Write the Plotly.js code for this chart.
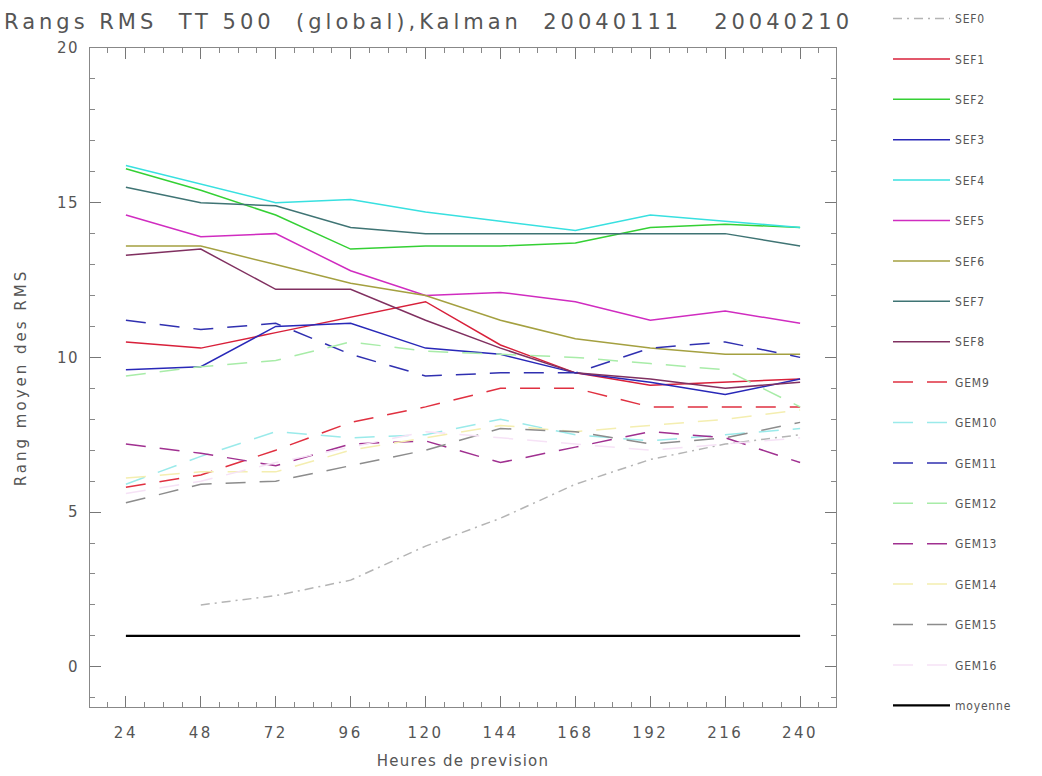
<!DOCTYPE html>
<html>
<head>
<meta charset="utf-8">
<script src="https://cdn.plot.ly/plotly-3.0.1.min.js"></script>
<style>
  html, body { margin: 0; padding: 0; background: #fff; }
  #chart { width: 1042px; height: 776px; }
  .gtitle { letter-spacing: 4px; }
  .ytitle { letter-spacing: 3px; }
  .xtitle { letter-spacing: 1.2px; }
  .xtick text { letter-spacing: 2.5px; }
  .ytick text { letter-spacing: 1.5px; }
  .legendtext { letter-spacing: 0.8px; }
</style>
</head>
<body>
<div id="chart"></div>
<script>
// Forecast hours
const hours = [24, 48, 72, 96, 120, 144, 168, 192, 216, 240];
const hourLabels = ['24', '48', '72', '96', '120', '144', '168', '192', '216', '240'];

// Mean rank of RMS error per ensemble member
const sef0 = [null, 2.0, 2.3, 2.8, 3.9, 4.8, 5.9, 6.7, 7.2, 7.5];
const sef1 = [10.5, 10.3, 10.8, 11.3, 11.8, 10.4, 9.5, 9.1, 9.2, 9.3];
const sef2 = [16.1, 15.4, 14.6, 13.5, 13.6, 13.6, 13.7, 14.2, 14.3, 14.2];
const sef3 = [9.6, 9.7, 11.0, 11.1, 10.3, 10.1, 9.5, 9.2, 8.8, 9.3];
const sef4 = [16.2, 15.6, 15.0, 15.1, 14.7, 14.4, 14.1, 14.6, 14.4, 14.2];
const sef5 = [14.6, 13.9, 14.0, 12.8, 12.0, 12.1, 11.8, 11.2, 11.5, 11.1];
const sef6 = [13.6, 13.6, 13.0, 12.4, 12.0, 11.2, 10.6, 10.3, 10.1, 10.1];
const sef7 = [15.5, 15.0, 14.9, 14.2, 14.0, 14.0, 14.0, 14.0, 14.0, 13.6];
const sef8 = [13.3, 13.5, 12.2, 12.2, 11.2, 10.3, 9.5, 9.3, 9.0, 9.2];
const gem9 = [5.8, 6.2, 7.0, 7.9, 8.4, 9.0, 9.0, 8.4, 8.4, 8.4];
const gem10 = [5.9, 6.8, 7.6, 7.4, 7.5, 8.0, 7.5, 7.3, 7.5, 7.7];
const gem11 = [11.2, 10.9, 11.1, 10.1, 9.4, 9.5, 9.5, 10.3, 10.5, 10.0];
const gem12 = [9.4, 9.7, 9.9, 10.5, 10.2, 10.1, 10.0, 9.8, 9.6, 8.4];
const gem13 = [7.2, 6.9, 6.5, 7.2, 7.3, 6.6, 7.1, 7.6, 7.4, 6.6];
const gem14 = [6.1, 6.3, 6.3, 7.0, 7.4, 7.8, 7.6, 7.8, 8.0, 8.3];
const gem15 = [5.3, 5.9, 6.0, 6.5, 7.0, 7.7, 7.6, 7.2, 7.4, 7.9];
const gem16 = [5.6, 6.0, 6.6, 7.1, 7.6, 7.4, 7.2, 7.0, 7.2, 7.4];
const moyenne = [1, 1, 1, 1, 1, 1, 1, 1, 1, 1];

const memberNames = ['SEF0', 'SEF1', 'SEF2', 'SEF3', 'SEF4', 'SEF5', 'SEF6', 'SEF7', 'SEF8',
  'GEM9', 'GEM10', 'GEM11', 'GEM12', 'GEM13', 'GEM14', 'GEM15', 'GEM16', 'moyenne'];
const memberValues = [sef0, sef1, sef2, sef3, sef4, sef5, sef6, sef7, sef8,
  gem9, gem10, gem11, gem12, gem13, gem14, gem15, gem16, moyenne];

// Line styles: SEF members solid, GEM members long dashes
const lineColors = ['#b4b4b4', '#d8203a', '#34d034', '#2828b8', '#38e0e0', '#d02cc0', '#a4a040',
  '#3f7474', '#803060', '#e03040', '#9aeaea', '#3030b0', '#a8eca8', '#a03090', '#f4eeb0',
  '#8c8c8c', '#f6e2f6', '#000000'];
const lineDash = ['9px,5px,2px,5px', 'solid', 'solid', 'solid', 'solid', 'solid', 'solid', 'solid', 'solid',
  '20px,14px', '20px,14px', '20px,14px', '20px,14px', '20px,14px', '20px,14px', '20px,14px', '20px,14px', 'solid'];
const lineWidths = [1.5, 1.5, 1.5, 1.5, 1.5, 1.5, 1.5, 1.5, 1.5,
  1.5, 1.5, 1.5, 1.5, 1.5, 1.5, 1.5, 1.5, 2.2];

const traces = memberNames.map((name, i) => ({
  type: 'scatter',
  mode: 'lines',
  name: name,
  legendgroup: name,
  x: hours,
  y: memberValues[i],
  connectgaps: false,
  line: { color: lineColors[i], width: lineWidths[i], dash: lineDash[i] },
  hoverinfo: 'x+y+name'
}));

const axisFont = { family: 'DejaVu Sans, sans-serif', size: 15, color: '#555' };
const titleFont = { family: 'DejaVu Sans, sans-serif', size: 15, color: '#555' };

const layout = {
  width: 1042,
  height: 776,
  paper_bgcolor: '#ffffff',
  plot_bgcolor: '#ffffff',
  margin: { l: 90, r: 206, t: 48, b: 69, pad: 0 },
  font: { family: 'DejaVu Sans, sans-serif', color: '#444' },
  title: {
    text: 'Rangs RMS  TT 500  (global),Kalman  20040111   20040210',
    font: { family: 'DejaVu Sans, sans-serif', size: 21, color: '#555' },
    xref: 'container', x: 4 / 1042, xanchor: 'left',
    yref: 'container', y: 1 - 22 / 776, yanchor: 'middle'
  },
  xaxis: {
    range: [12.5, 251.5],
    tickmode: 'array',
    tickvals: hours,
    ticktext: hourLabels,
    ticks: 'inside', ticklen: 11, tickwidth: 1, tickcolor: '#777',
    minor: { dtick: 6, tick0: 0, ticks: 'inside', ticklen: 5, tickcolor: '#888' },
    showline: true, linecolor: '#888', linewidth: 1, mirror: 'ticks',
    showgrid: false, zeroline: false,
    tickfont: axisFont,
    ticklabelstandoff: 12,
    title: { text: 'Heures de prevision', font: titleFont, standoff: 14 }
  },
  yaxis: {
    range: [-1.3, 20],
    tickmode: 'linear', tick0: 0, dtick: 5,
    ticks: 'inside', ticklen: 11, tickwidth: 1, tickcolor: '#777',
    minor: { dtick: 1, ticks: 'inside', ticklen: 5, tickcolor: '#888' },
    showline: true, linecolor: '#888', linewidth: 1, mirror: 'ticks',
    showgrid: false, zeroline: false,
    tickfont: axisFont,
    ticklabelstandoff: 7,
    title: { text: 'Rang moyen des RMS', font: titleFont, standoff: 26 }
  },
  showlegend: true,
  legend: {
    xref: 'container', x: 888 / 1042, xanchor: 'left',
    yref: 'container', y: 1 - 4 / 776, yanchor: 'top',
    traceorder: 'grouped',
    tracegroupgap: 21.4,
    itemwidth: 57,
    maxheight: 770,
    bgcolor: 'rgba(0,0,0,0)',
    borderwidth: 0,
    font: { family: 'DejaVu Sans Condensed, DejaVu Sans, sans-serif', size: 12, color: '#555' }
  }
};

Plotly.newPlot('chart', traces, layout, { displayModeBar: false, staticPlot: true });
</script>
</body>
</html>
